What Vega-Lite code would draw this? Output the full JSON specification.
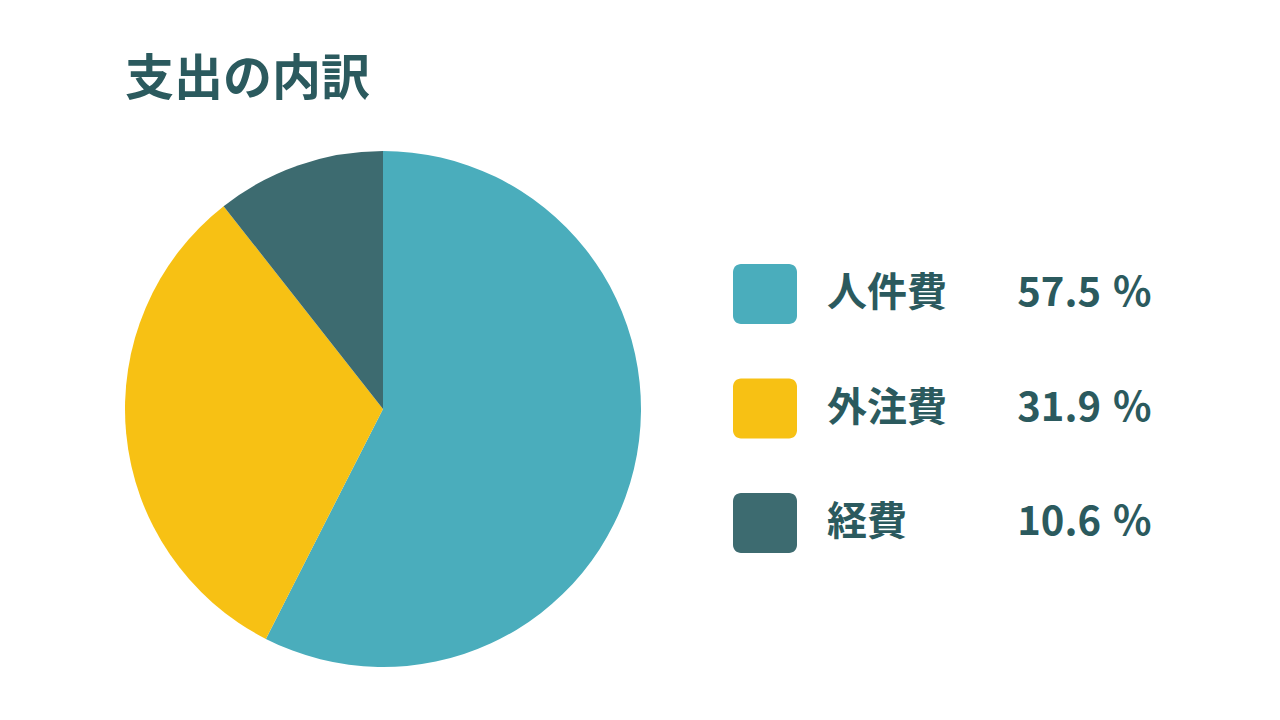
{
  "$schema": "https://vega.github.io/schema/vega-lite/v6.json",
  "background": "white",
  "padding": {"left": 125, "top": 56, "right": 0, "bottom": 0},
  "autosize": {"type": "pad"},
  "title": {
    "text": "支出の内訳",
    "anchor": "start",
    "frame": "group",
    "font": "Noto Sans CJK JP",
    "fontSize": 49,
    "fontWeight": "bold",
    "color": "#2B5A5E",
    "offset": 46
  },
  "data": {
    "values": [
      {"category": "人件費", "pct": 57.5, "order": 1},
      {"category": "外注費", "pct": 31.9, "order": 2},
      {"category": "経費", "pct": 10.6, "order": 3}
    ]
  },
  "spacing": 92,
  "hconcat": [
    {
      "width": 516,
      "height": 516,
      "mark": {"type": "arc", "stroke": null},
      "encoding": {
        "theta": {"field": "pct", "type": "quantitative"},
        "order": {"field": "order", "type": "quantitative"},
        "color": {
          "field": "category",
          "type": "nominal",
          "legend": null,
          "scale": {
            "domain": ["人件費", "外注費", "経費"],
            "range": ["#4AADBC", "#F7C114", "#3D6B70"]
          }
        }
      }
    },
    {
      "width": 420,
      "height": 516,
      "encoding": {
        "y": {
          "field": "category",
          "type": "nominal",
          "sort": ["人件費", "外注費", "経費"],
          "scale": {"type": "point", "padding": 0, "range": [143, 372]},
          "axis": null
        }
      },
      "layer": [
        {
          "mark": {
            "type": "point",
            "filled": true,
            "opacity": 1,
            "size": 4096,
            "x": 32,
            "shape": "M-0.75,-0.9375 H0.75 A0.25,0.25 0 0 1 1,-0.6875 V0.6875 A0.25,0.25 0 0 1 0.75,0.9375 H-0.75 A0.25,0.25 0 0 1 -1,0.6875 V-0.6875 A0.25,0.25 0 0 1 -0.75,-0.9375 Z"
          },
          "encoding": {
            "color": {
              "field": "category",
              "type": "nominal",
              "legend": null,
              "scale": {
                "domain": ["人件費", "外注費", "経費"],
                "range": ["#4AADBC", "#F7C114", "#3D6B70"]
              }
            }
          }
        },
        {
          "mark": {
            "type": "text",
            "x": 94,
            "align": "left",
            "baseline": "middle",
            "font": "Noto Sans CJK JP",
            "fontSize": 40,
            "fontWeight": "bold",
            "color": "#2B5A5E"
          },
          "encoding": {"text": {"field": "category", "type": "nominal"}}
        },
        {
          "mark": {
            "type": "text",
            "x": 368,
            "align": "right",
            "baseline": "middle",
            "font": "Noto Sans CJK JP",
            "fontSize": 40,
            "fontWeight": "bold",
            "color": "#2B5A5E"
          },
          "encoding": {"text": {"field": "pct", "type": "quantitative", "format": ".1f"}}
        },
        {
          "mark": {
            "type": "text",
            "x": 380,
            "align": "left",
            "baseline": "middle",
            "font": "Noto Sans CJK JP",
            "fontSize": 40,
            "fontWeight": "bold",
            "color": "#2B5A5E"
          },
          "encoding": {"text": {"value": "%"}}
        }
      ]
    }
  ],
  "config": {
    "view": {"stroke": null},
    "concat": {"spacing": 92}
  }
}
